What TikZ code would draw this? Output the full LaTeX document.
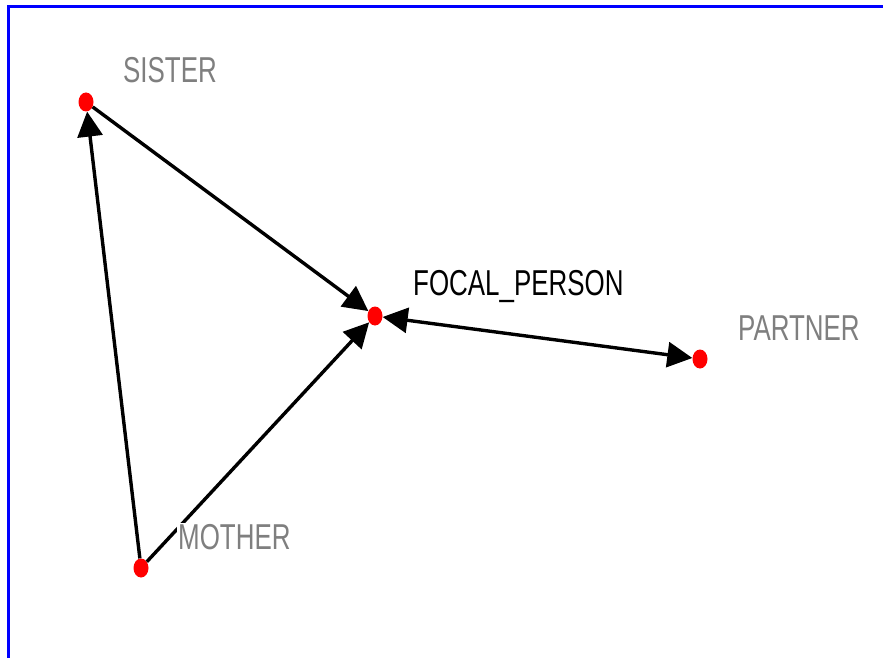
\documentclass[tikz,border=0pt]{standalone}
\usepackage{fontspec}
\setmainfont{Liberation Sans}
\newfontfamily\lblfont[FakeStretch=0.72]{Liberation Sans}
\usetikzlibrary{arrows.meta,shapes.geometric}
\definecolor{lblgray}{HTML}{7F7F7F}
\begin{document}
\begin{tikzpicture}[x=1pt,y=-1pt,
  dot/.style={ellipse,fill=red,draw=none,inner sep=0pt,minimum width=15pt,minimum height=19pt},
  lbl/.style={font=\lblfont\fontsize{36}{36}\selectfont,text=lblgray,anchor=base west,inner sep=1pt,fill=white},
  link/.style={line width=3.4pt,-{Triangle[length=25pt,width=25pt]}},
  blink/.style={line width=3.4pt,{Triangle[length=25pt,width=25pt]}-{Triangle[length=25pt,width=25pt]}}]
\useasboundingbox (0,0) rectangle (883,658);
\draw[blue,line width=3pt] (8.5,658) -- (8.5,7) -- (883,7);
\node[dot] (sister) at (86,102) {};
\node[dot] (focal) at (375,316) {};
\node[dot] (partner) at (700,359) {};
\node[dot] (mother) at (141,568) {};
\draw[link] (sister) -- (focal);
\draw[link] (mother) -- (sister);
\draw[link] (mother) -- (focal);
\draw[blink] (focal) -- (partner);
\node[lbl] (lsister) at (122,83) {SISTER};
\node[lbl,text=black] (lfocal) at (412,295) {FOCAL\_PERSON};
\node[lbl] (lpartner) at (737,340) {PARTNER};
\node[lbl] (lmother) at (177,549) {MOTHER};
\end{tikzpicture}
\end{document}
